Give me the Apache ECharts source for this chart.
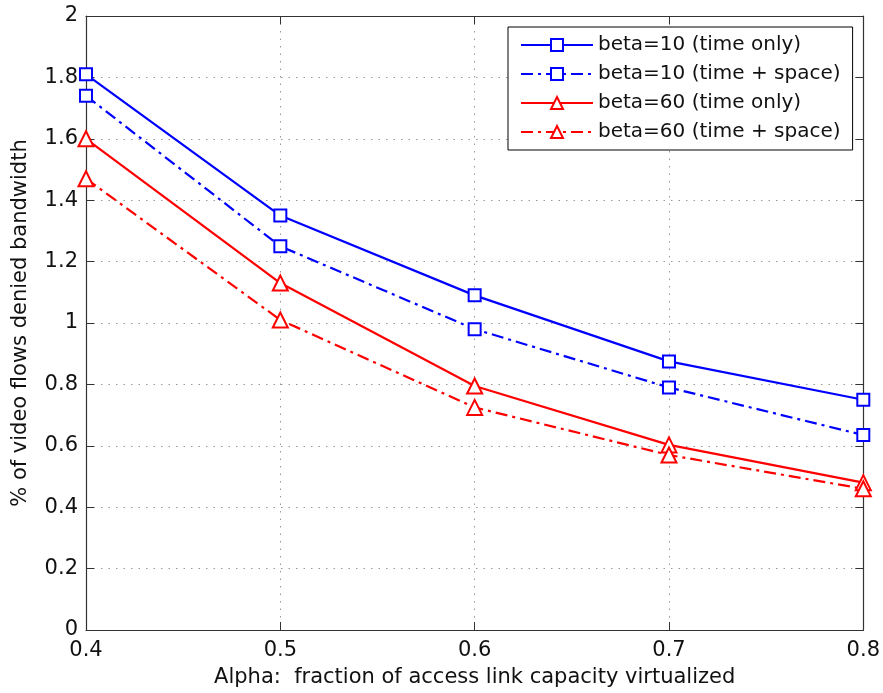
<!DOCTYPE html>
<html>
<head>
<meta charset="utf-8">
<script src="https://cdn.jsdelivr.net/npm/echarts@6/dist/echarts.min.js"></script>
<style>html,body{margin:0;padding:0;background:#fff}#c{width:883px;height:693px}</style>
</head>
<body>
<div id="c"></div>
<script>
const categories = ['0.4', '0.5', '0.6', '0.7', '0.8'];
const yTicks = [0, 0.2, 0.4, 0.6, 0.8, 1, 1.2, 1.4, 1.6, 1.8, 2];
const beta10Time = [1.81, 1.35, 1.09, 0.875, 0.75];
const beta10TimeSpace = [1.74, 1.25, 0.98, 0.79, 0.635];
const beta60Time = [1.60, 1.13, 0.795, 0.603, 0.48];
const beta60TimeSpace = [1.47, 1.01, 0.725, 0.57, 0.46];
const seriesNames = ['beta=10 (time only)', 'beta=10 (time + space)', 'beta=60 (time only)', 'beta=60 (time + space)'];

const FONT = '"DejaVu Sans", "Liberation Sans", Arial, sans-serif';
const FS = 21;
const dashDot = [12, 5, 3, 5];
const chart = echarts.init(document.getElementById('c'), null, {renderer: 'canvas'});

function mk(name, data, color, dashed, symbol, size) {
  return {
    name, type: 'line', data, xAxisIndex: 0, yAxisIndex: 0,
    symbol, symbolSize: size, showAllSymbol: true,
    lineStyle: {color, width: 2.2, type: dashed ? dashDot : 'solid'},
    itemStyle: {color: '#fff', borderColor: color, borderWidth: 2},
    emphasis: {disabled: true}, animation: false, z: 3
  };
}

const tickStyle = {show: true, inside: true, length: 8, lineStyle: {color: '#333', width: 1}};
const axisLine = {show: true, onZero: false, lineStyle: {color: '#333', width: 1.2}};

chart.setOption({
  animation: false,
  backgroundColor: '#fff',
  textStyle: {fontFamily: FONT},
  grid: {left: 86, right: 19, top: 16, bottom: 63, containLabel: false},
  legend: {
    orient: 'vertical', left: 508, top: 27,
    data: seriesNames,
    backgroundColor: '#fff', borderColor: '#000', borderWidth: 1,
    padding: [8, 12, 8, 12], itemGap: 9, itemWidth: 72, itemHeight: 15,
    textStyle: {fontFamily: FONT, fontSize: 20, color: '#111'},
    selectedMode: false
  },
  xAxis: [{
    type: 'category', data: categories, boundaryGap: false, position: 'bottom',
    name: 'Alpha:  fraction of access link capacity virtualized',
    nameLocation: 'middle', nameGap: 37,
    nameTextStyle: {fontFamily: FONT, fontSize: FS, color: '#111'},
    axisLine, axisTick: Object.assign({alignWithLabel: true}, tickStyle),
    axisLabel: {fontFamily: FONT, fontSize: FS, color: '#111', margin: 10},
    splitLine: {show: true, lineStyle: {color: '#999', type: [1.5, 6], width: 1}}
  }, {
    type: 'category', data: categories, boundaryGap: false, position: 'top',
    axisLine, axisTick: tickStyle, axisLabel: {show: false}, splitLine: {show: false}
  }],
  yAxis: [{
    type: 'value', min: 0, max: 2, interval: 0.2, position: 'left',
    name: '% of video flows denied bandwidth',
    nameLocation: 'middle', nameGap: 55, nameRotate: 90,
    nameTextStyle: {fontFamily: FONT, fontSize: FS, color: '#111'},
    axisLine, axisTick: tickStyle,
    axisLabel: {fontFamily: FONT, fontSize: FS, color: '#111', margin: 8,
      formatter: v => { const t = yTicks.find(x => Math.abs(x - v) < 1e-6); return t === undefined ? '' : String(t); }},
    splitLine: {show: true, lineStyle: {color: '#999', type: [1.5, 6], width: 1}}
  }, {
    type: 'value', min: 0, max: 2, interval: 0.2, position: 'right',
    axisLine, axisTick: tickStyle, axisLabel: {show: false}, splitLine: {show: false}
  }],
  series: [
    mk(seriesNames[0], beta10Time, '#0000ff', false, 'rect', 12),
    mk(seriesNames[1], beta10TimeSpace, '#0000ff', true, 'rect', 12),
    mk(seriesNames[2], beta60Time, '#ff0000', false, 'triangle', 15),
    mk(seriesNames[3], beta60TimeSpace, '#ff0000', true, 'triangle', 15)
  ]
});
</script>
</body>
</html>
